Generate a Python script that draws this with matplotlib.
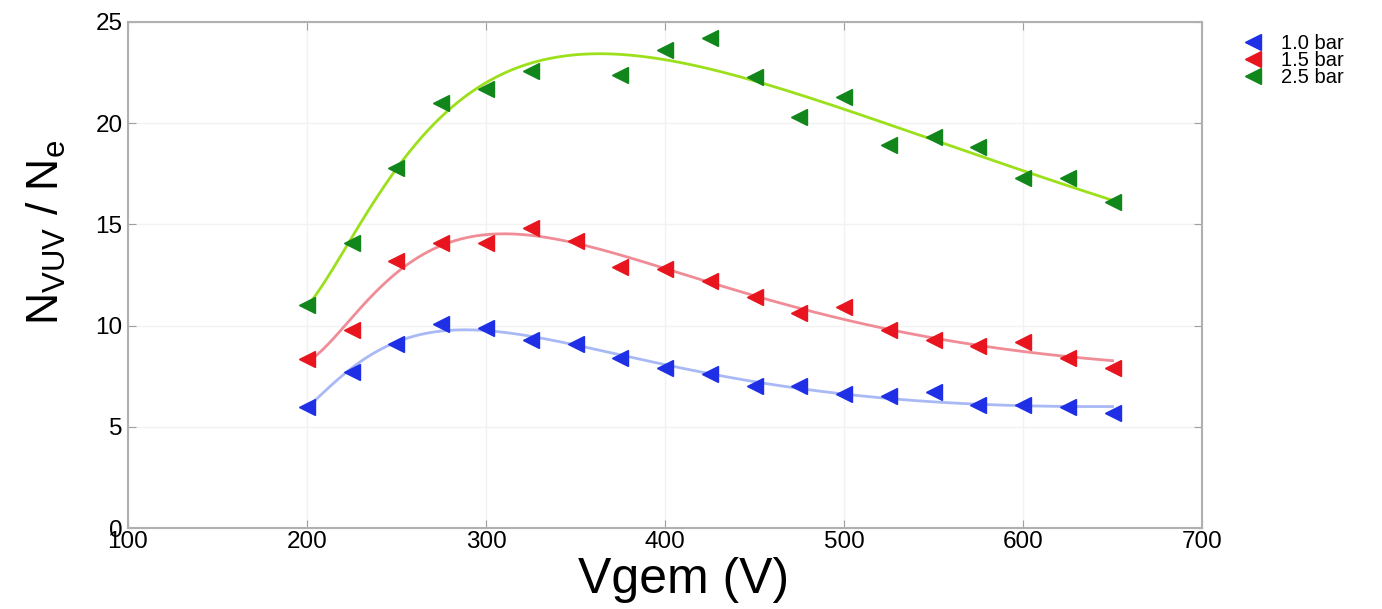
import numpy as np
import matplotlib
matplotlib.use("Agg")
import matplotlib.pyplot as plt

plt.rcParams['font.family'] = ['Liberation Sans', 'DejaVu Sans']
plt.rcParams['mathtext.fontset'] = 'custom'
plt.rcParams['mathtext.rm'] = 'Liberation Sans'

# datos
vgem = [200, 225, 250, 275, 300, 325, 350, 375, 400, 425,
        450, 475, 500, 525, 550, 575, 600, 625, 650]
n_10bar = [6.0, 7.7, 9.1, 10.1, 9.9, 9.3, 9.1, 8.4, 7.9, 7.6,
           7.0, 7.0, 6.6, 6.5, 6.7, 6.1, 6.1, 6.0, 5.7]
n_15bar = [8.35, 9.8, 13.2, 14.1, 14.1, 14.8, 14.2, 12.9, 12.8, 12.2,
           11.4, 10.6, 10.9, 9.8, 9.3, 9.0, 9.2, 8.4, 7.9]
vgem_25 = [200, 225, 250, 275, 300, 325, 375, 400, 425,
           450, 475, 500, 525, 550, 575, 600, 625, 650]
n_25bar = [11.0, 14.1, 17.8, 21.0, 21.7, 22.6, 22.4, 23.6, 24.2,
           22.3, 20.3, 21.3, 18.9, 19.3, 18.8, 17.3, 17.3, 16.1]

labels = ['1.0 bar', '1.5 bar', '2.5 bar']
series = [(vgem, n_10bar), (vgem, n_15bar), (vgem_25, n_25bar)]
marker_colors = ['#1f2fe6', '#e8141e', '#11861a']
line_colors = ['#a9b9f5', '#f08c96', '#9be01a']


def fit_curve(x, y, deg=4):
    # ajuste polinomial en 1/x
    x = np.asarray(x, float)
    c = np.polyfit(1.0 / x, y, deg)
    xs = np.linspace(x.min(), x.max(), 300)
    return xs, np.polyval(c, 1.0 / xs)


fig = plt.figure(figsize=(13.82, 6.09), dpi=100)
ax = fig.add_axes([0.0926, 0.133, 0.7772, 0.8309])

for (x, y), lab, mc, lc in zip(series, labels, marker_colors, line_colors):
    xs, ys = fit_curve(x, y)
    ax.plot(xs, ys, color=lc, lw=2, zorder=2)
    ax.plot(x, y, ls='none', marker='<', ms=11, color=mc,
            markeredgecolor=mc, label=lab, zorder=3)

ax.set_xlim(100, 700)
ax.set_ylim(0, 25)
ax.set_xticks(range(100, 701, 100))
ax.set_yticks(range(0, 26, 5))
ax.grid(True, color='#f2f2f2', lw=1)
ax.set_axisbelow(True)
ax.tick_params(direction='in', top=True, right=True, length=6,
               color='#a0a0a0', labelsize=17.5, pad=4)
ax.tick_params(axis='x', pad=2)
for s in ax.spines.values():
    s.set_color('#b0b0b0')
    s.set_linewidth(1.5)

ax.set_xlabel('Vgem (V)', fontsize=36)
ax.xaxis.set_label_coords(0.517, -0.058)
ax.set_ylabel(r'N$_{\mathregular{VUV}}$ / N$_{\mathregular{e}}$', fontsize=32)
ax.yaxis.set_label_coords(-0.056, 0.585)

ax.legend(loc='upper left', bbox_to_anchor=(1.025, 1.004), frameon=False,
          fontsize=14.5, handletextpad=0.9, labelspacing=-0.1,
          handlelength=1.0, borderaxespad=0.3)

fig.savefig('out.png', dpi=100)
